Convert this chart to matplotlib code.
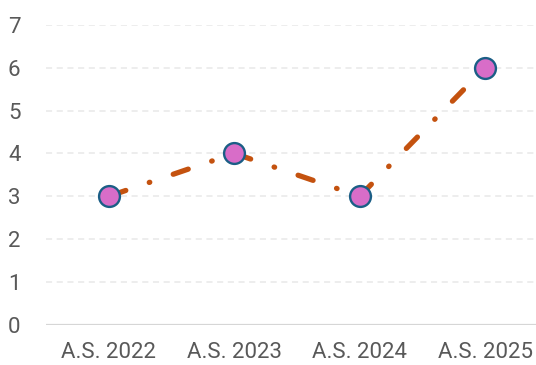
import matplotlib.pyplot as plt

categories = ["A.S. 2022", "A.S. 2023", "A.S. 2024", "A.S. 2025"]
values = [3, 4, 3, 6]
y_ticks = [0, 1, 2, 3, 4, 5, 6, 7]

plt.rcParams['font.family'] = ['Roboto', 'DejaVu Sans']

fig = plt.figure(figsize=(5.36, 3.65), dpi=100)
ax = fig.add_axes([0.086, 0.11, 0.936, 0.822])

x = range(len(categories))
lw = 3.8
ax.plot(x, values, color='#C4520F', linewidth=lw,
        linestyle=(-0.4, (3.0, 4.7, 0.1, 4.7)),
        dash_capstyle='round', solid_capstyle='round', zorder=3)
ax.plot(x, values, linestyle='none', marker='o', markersize=15,
        markerfacecolor='#D86DC8', markeredgecolor='#1B5E86',
        markeredgewidth=1.7, zorder=4)

ax.set_xlim(-0.5, len(categories) - 0.5)
ax.set_ylim(0, 7)
ax.set_yticks(y_ticks)
ax.set_xticks(list(x))
ax.set_xticklabels(categories)

# dashed horizontal gridlines, solid baseline at zero
for t in y_ticks[1:]:
    ax.axhline(t, color='#E8E8E8', linewidth=1.1, linestyle=(0, (4, 3)), zorder=1)
ax.axhline(0, color='#D6D6D6', linewidth=1.6, zorder=1)

for s in ax.spines.values():
    s.set_visible(False)
ax.tick_params(axis='both', length=0, labelsize=16, labelcolor='#595959')
ax.tick_params(axis='y', pad=23)
ax.tick_params(axis='x', pad=12)
for lbl in ax.get_yticklabels():
    lbl.set_horizontalalignment('center')

fig.savefig('out.png', dpi=100)
